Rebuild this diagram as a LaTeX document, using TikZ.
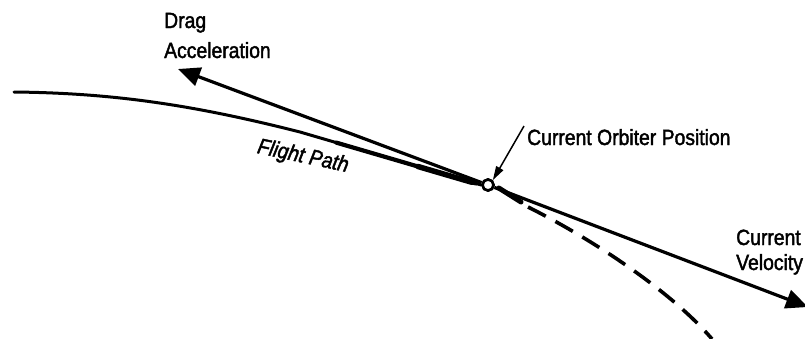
\documentclass[tikz,border=0pt]{standalone}
\usepackage{fontspec}
\setmainfont{Liberation Sans}[FakeStretch=0.88,FakeBold=1.8]
\usetikzlibrary{arrows.meta,calc}
\begin{document}
\begin{tikzpicture}[x=1pt,y=-1pt,
  lbl/.style={font=\fontsize{22}{25}\selectfont, inner sep=0pt, align=left},
  bigarrow/.style={line width=3.2pt, -{Triangle[length=22pt,width=19pt]}},
  fpath/.style={line width=3pt, line cap=round}]
\useasboundingbox (0,0) rectangle (805,338);
\node[circle, draw, line width=2.6pt, fill=white, minimum size=11pt, inner sep=0pt] (pos) at (488,185) {};
\coordinate (fpstart) at (14,92);
\coordinate (fpmid) at (300,132);
\coordinate (dragtip) at (178,69);
\coordinate (veltip) at (808,307);
\coordinate (dashend) at (712,339);
\coordinate (leadstart) at (524,126);
% flight path
\draw[fpath] (fpstart) .. controls (110,93) and (190,104) .. (fpmid) -- (pos.west);
\draw[line width=4.2pt, line cap=round] ($(fpmid)!0.2!(pos.west)$) -- ($(fpmid)!0.97!(pos.west)$);
\draw[line width=5.5pt, line cap=round] ($(fpmid)!0.65!(pos.west)$) -- ($(fpmid)!0.95!(pos.west)$);
\draw[line width=5pt, line cap=round] ($(pos.east)+(4,3)$) -- (521,202);
% dashed continuation
\draw[line width=3.6pt, dash pattern=on 20pt off 11pt] (528,207) .. controls (590,238) and (670,290) .. (dashend);
% drag acceleration
\draw[bigarrow] (pos) -- (dragtip);
% current velocity
\draw[bigarrow] (pos) -- (veltip);
\node[circle, draw, line width=2.6pt, fill=white, minimum size=11pt, inner sep=0pt] at (pos) {};
% leader
\draw[line width=1.5pt, -{Triangle[length=14pt,width=8pt]}] (leadstart) -- (pos.north east);
% labels
\node[lbl, anchor=base west] (drag) at (164,58) {Drag\\[5pt]Acceleration};
\node[lbl, anchor=center, rotate=-12] (fp) at (303,157) {\itshape Flight Path};
\node[lbl, anchor=base west] (cop) at (527,145) {Current Orbiter Position};
\node[lbl, anchor=base west] (cv) at (736,270) {Current\\Velocity};
\end{tikzpicture}
\end{document}
